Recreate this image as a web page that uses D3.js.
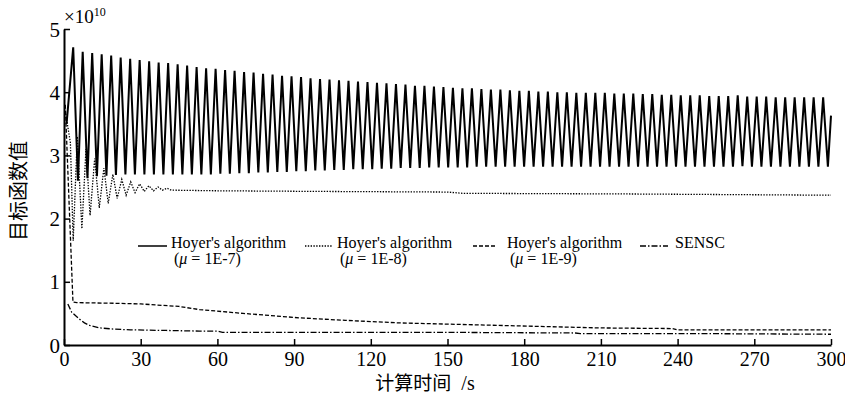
<!DOCTYPE html>
<html lang="zh">
  <head>
    <meta charset="utf-8">
    <title>目标函数值</title>
    <script src="https://d3js.org/d3.v7.min.js"></script>
    <style>
      body { margin: 0; background: #fff; }
      svg text { font-family: "Liberation Serif", "Times New Roman", serif; fill: #000; }
      .cjk { font-family: "Noto Sans CJK SC", sans-serif; }
    </style>
  </head>
  <body>
    <svg id="chart" width="845" height="403"></svg>

    <script type="text/javascript">
      // axis ticks
      var xTicks = [0, 30, 60, 90, 120, 150, 180, 210, 240, 270, 300];
      var yTicks = [0, 1, 2, 3, 4, 5];

      // Hoyer mu=1E-7 : oscillation, time of first peak and spacing between peaks (s)
      var solidFirstPeak = 3.6;
      var solidPeakStep = 3.713;
      var solidStart = [1.0, 3.5];
      var solidEnd = [300, 3.63];
      var solidTops = [
        4.71, 4.64, 4.62, 4.60, 4.58, 4.55, 4.53, 4.51, 4.49, 4.47,
        4.46, 4.44, 4.42, 4.40, 4.38, 4.37, 4.35, 4.34, 4.32, 4.31,
        4.29, 4.28, 4.26, 4.25, 4.24, 4.22, 4.21, 4.20, 4.19, 4.18,
        4.17, 4.16, 4.15, 4.14, 4.13, 4.12, 4.10, 4.10, 4.09, 4.08,
        4.07, 4.06, 4.06, 4.05, 4.04, 4.04, 4.03, 4.02, 4.02, 4.01,
        4.01, 4.00, 4.00, 3.99, 3.99, 3.99, 3.99, 3.98, 3.98, 3.98,
        3.97, 3.97, 3.96, 3.96, 3.95, 3.95, 3.95, 3.94, 3.94, 3.94,
        3.95, 3.93, 3.93, 3.93, 3.92, 3.92, 3.92, 3.92, 3.92, 3.92
      ];
      var solidBottoms = [
        2.60, 2.64, 2.67, 2.68, 2.69, 2.70, 2.70, 2.70, 2.70, 2.70,
        2.70, 2.70, 2.70, 2.70, 2.70, 2.71, 2.71, 2.72, 2.72, 2.73,
        2.73, 2.74, 2.74, 2.75, 2.75, 2.76, 2.76, 2.77, 2.77, 2.78,
        2.78, 2.78, 2.79, 2.79, 2.80, 2.80, 2.80, 2.81, 2.81, 2.81,
        2.81, 2.81, 2.82, 2.82, 2.82, 2.82, 2.82, 2.82, 2.82, 2.82,
        2.82, 2.82, 2.82, 2.82, 2.82, 2.82, 2.82, 2.82, 2.82, 2.82,
        2.82, 2.82, 2.82, 2.82, 2.82, 2.82, 2.82, 2.82, 2.82, 2.82,
        2.83, 2.82, 2.82, 2.82, 2.82, 2.82, 2.82, 2.82, 2.82, 2.82
      ];

      // Hoyer mu=1E-8 : damped oscillation then flat
      var dottedT = [0.5, 2.5, 3.6, 5.2, 7.0, 8.6, 10.2, 12.0, 13.8, 15.6, 17.3, 19.1, 20.8,
        22.6, 24.3, 26.1, 27.8, 29.6, 31.4, 33.2, 35.0, 36.8, 38.5, 40.3, 42, 60, 100, 150, 156, 220, 300];
      var dottedV = [3.70, 3.20, 1.65, 3.30, 1.84, 3.10, 2.05, 2.95, 2.17, 2.80, 2.24, 2.70, 2.32,
        2.62, 2.37, 2.58, 2.41, 2.55, 2.43, 2.52, 2.44, 2.50, 2.45, 2.48, 2.45, 2.44, 2.43, 2.42, 2.40, 2.39, 2.37];

      // Hoyer mu=1E-9
      var dashedT = [0.5, 3.5, 5, 20, 30, 45, 53, 70, 92, 110, 131, 150, 170, 190, 210, 238, 240, 270, 300];
      var dashedV = [3.80, 0.68, 0.67, 0.66, 0.65, 0.61, 0.56, 0.50, 0.43, 0.39, 0.35, 0.33, 0.31, 0.29, 0.27, 0.26, 0.24, 0.24, 0.24];

      // SENSC
      var senscT = [1.5, 3, 6, 8, 10, 14, 20, 26, 40, 53, 60, 62, 100, 150, 200, 202, 250, 300];
      var senscV = [0.65, 0.52, 0.41, 0.35, 0.31, 0.27, 0.25, 0.24, 0.23, 0.22, 0.22, 0.20, 0.20, 0.20, 0.19, 0.18, 0.18, 0.17];

      var legendNames = ["Hoyer's algorithm", "Hoyer's algorithm", "Hoyer's algorithm", "SENSC"];
      var legendMu = ["1E-7", "1E-8", "1E-9", null];
      var dashes = [null, "1.4,1.4", "4,2", "6,2,1.5,2"];

      var marginLeft = 64, marginTop = 29;
      var plotWidth = 767, plotHeight = 316;

      var svg = d3.select("#chart");
      var g = svg.append("g").attr("transform", "translate(" + marginLeft + "," + marginTop + ")");

      var x = d3.scaleLinear().domain([0, 300]).range([0, plotWidth]);
      var y = d3.scaleLinear().domain([0, 5]).range([plotHeight, 0]);

      svg.append("defs").append("clipPath").attr("id", "plotClip")
        .append("rect").attr("x", 0).attr("y", -2).attr("width", plotWidth + 2).attr("height", plotHeight + 2);

      function zipSeries(ts, vs) {
        return ts.map(function(t, i) { return [t, vs[i]]; });
      }

      var solidPts = [solidStart];
      for (var k = 0; k < solidTops.length; k++) {
        solidPts.push([solidFirstPeak + k * solidPeakStep, solidTops[k]]);
        solidPts.push([solidFirstPeak + (k + 0.5) * solidPeakStep, solidBottoms[k]]);
      }
      solidPts.push(solidEnd);

      var series = [
        solidPts,
        zipSeries(dottedT, dottedV),
        zipSeries(dashedT, dashedV),
        zipSeries(senscT, senscV)
      ];

      var line = d3.line()
        .x(function(d) { return x(d[0]); })
        .y(function(d) { return y(d[1]); });

      var lines = g.append("g").attr("clip-path", "url(#plotClip)");
      lines.selectAll("path").data(series).enter().append("path")
        .attr("d", line)
        .attr("fill", "none")
        .attr("stroke", "#000")
        .attr("stroke-width", function(d, i) { return i == 0 ? 2 : 1.3; })
        .attr("stroke-dasharray", function(d, i) { return dashes[i]; });

      // axes: only left and bottom spines, ticks pointing inward
      var xAxis = g.append("g")
        .attr("class", "axis")
        .attr("transform", "translate(0," + plotHeight + ")")
        .call(d3.axisBottom(x).tickValues(xTicks).tickSize(-6).tickSizeOuter(0).tickPadding(5));
      var yAxis = g.append("g")
        .attr("class", "axis")
        .call(d3.axisLeft(y).tickValues(yTicks).tickFormat(d3.format("d")).tickSize(-6).tickSizeOuter(0).tickPadding(4));

      svg.selectAll(".axis .domain").attr("stroke", "#000").attr("stroke-width", 2);
      svg.selectAll(".axis line").attr("stroke", "#000").attr("stroke-width", 1.5);
      svg.selectAll(".axis text")
        .style("font-family", "'Liberation Serif', serif")
        .style("font-size", "20px")
        .attr("fill", "#000");
      yAxis.selectAll("text").style("font-size", "21px");
      xAxis.selectAll("text").attr("dy", "0.8em");
      yAxis.selectAll("text").attr("dy", "0.34em");

      // exponent
      var expo = svg.append("text").attr("x", 64).attr("y", 23).style("font-size", "19px");
      expo.append("tspan").text("×10");
      expo.append("tspan").attr("dy", -7).style("font-size", "12px").text("10");

      // axis titles
      var xTitle = svg.append("text")
        .attr("x", 425).attr("y", 390)
        .attr("text-anchor", "middle");
      xTitle.append("tspan").attr("class", "cjk").style("font-size", "19px").text("计算时间");
      xTitle.append("tspan").style("font-size", "20px").text("\u00a0\u00a0/s");
      svg.append("text").attr("class", "cjk")
        .attr("transform", "translate(26,191) rotate(-90)")
        .attr("text-anchor", "middle")
        .style("font-size", "20px")
        .text("目标函数值");

      // legend
      var legendX = [138, 305, 473, 640];
      var legendLen = [29, 28, 24, 28];
      var legendTextX = [171, 337, 507, 675];
      var legend = svg.append("g");
      legendNames.forEach(function(name, i) {
        legend.append("line")
          .attr("x1", legendX[i]).attr("x2", legendX[i] + legendLen[i])
          .attr("y1", 246).attr("y2", 246)
          .attr("stroke", "#000").attr("stroke-width", 1.5)
          .attr("stroke-dasharray", dashes[i]);
        legend.append("text").attr("x", legendTextX[i]).attr("y", 248)
          .style("font-size", "16px").text(name);
        if (legendMu[i]) {
          var t2 = legend.append("text").attr("x", legendTextX[i] + 3).attr("y", 264).style("font-size", "16px");
          t2.append("tspan").text("(");
          t2.append("tspan").style("font-style", "italic").text("μ");
          t2.append("tspan").text(" = " + legendMu[i] + ")");
        }
      });
    </script>
  </body>
</html>
